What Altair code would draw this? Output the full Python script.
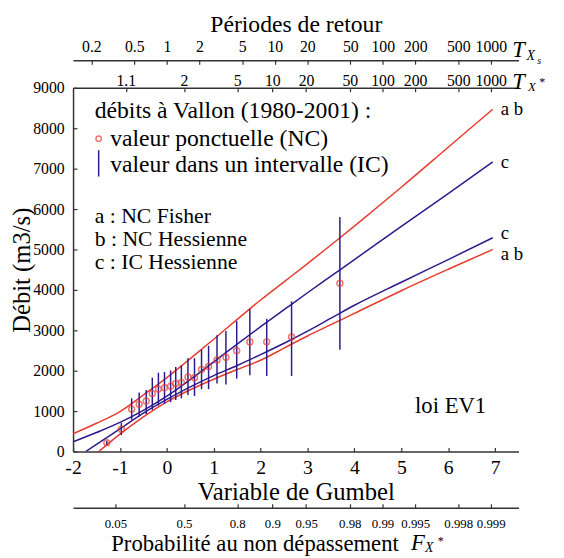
import altair as alt
import numpy as np
import pandas as pd

FONT = "Liberation Serif"
RED = "#e63c2e"
BLUE = "#2c1a8c"
AX = "#333333"

# ---------------- data ----------------
obs_u = [-1.28, -0.97, -0.75, -0.59, -0.44, -0.31, -0.18, -0.05, 0.08, 0.19, 0.31,
         0.45, 0.59, 0.74, 0.89, 1.07, 1.26, 1.49, 1.77, 2.13, 2.66, 3.69]
obs_q = [220, 553, 1049, 1171, 1252, 1439, 1545, 1577, 1618, 1683, 1707,
         1846, 1829, 2032, 2106, 2268, 2334, 2496, 2710, 2715, 2837, 4163]
ic_lo = [170, 407, 788, 871, 927, 1032, 1139, 1178, 1220, 1276, 1317,
         1398, 1373, 1544, 1544, 1683, 1659, 1805, 1885, 1871, 1871, 2520]
ic_hi = [270, 707, 1317, 1463, 1520, 1829, 1951, 1968, 2007, 2090, 2130,
         2310, 2310, 2520, 2617, 2878, 2983, 3227, 3529, 3285, 3715, 5805]

up_u = [-2, -1.5, -1, -0.5, 0, 0.5, 1, 1.5, 2, 2.5, 3, 3.5, 4, 5, 6, 6.95]
ab_upper = [440, 700, 990, 1400, 1830, 2300, 2780, 3270, 3750, 4200, 4650, 5110, 5580, 6540, 7530, 8470]
c_upper = [240, 470, 720, 1020, 1370, 1780, 2220, 2660, 3090, 3510, 3930, 4340, 4750, 5570, 6380, 7170]

c_low_u = [-1.73, -1.5, -1, -0.5, 0, 0.5, 1, 1.5, 2, 2.5, 3, 3.5, 4, 5, 6, 6.95]
c_lower = [0, 180, 560, 950, 1290, 1600, 1880, 2130, 2400, 2680, 2980, 3300, 3620, 4190, 4750, 5290]

ab_low_u = [-1.45, -1, -0.5, 0, 0.5, 1, 1.5, 2, 2.5, 3, 3.5, 4, 5, 6, 6.95]
ab_lower = [0, 430, 860, 1230, 1530, 1790, 2030, 2260, 2560, 2860, 3140, 3420, 3980, 4510, 5000]

gumbel_ticks = [-2, -1, 0, 1, 2, 3, 4, 5, 6, 7]
y_ticks = [0, 1000, 2000, 3000, 4000, 5000, 6000, 7000, 8000, 9000]
T_s_labels = [0.2, 0.5, 1, 2, 5, 10, 20, 50, 100, 200, 500, 1000]
T_star_labels = [1.1, 2, 5, 10, 20, 50, 100, 200, 500, 1000]
F_labels = [0.05, 0.5, 0.8, 0.9, 0.95, 0.98, 0.99, 0.995, 0.998, 0.999]

# positions of the secondary axes on the Gumbel variable
T_s_pos = [float(np.log(t)) for t in T_s_labels]
T_star_pos = [float(-np.log(-np.log(1 - 1 / t))) for t in T_star_labels]
F_pos = [float(-np.log(-np.log(f))) for f in F_labels]

XDOM = [-2, 7.5]
YDOM = [0, 9000]
W, H = 452, 369

curves = pd.concat([
    pd.DataFrame({"u": up_u, "v": ab_upper, "curve": "ab_up"}),
    pd.DataFrame({"u": up_u, "v": c_upper, "curve": "c_up"}),
    pd.DataFrame({"u": c_low_u, "v": c_lower, "curve": "c_low"}),
    pd.DataFrame({"u": ab_low_u, "v": ab_lower, "curve": "ab_low"}),
])
obs = pd.DataFrame({"u": obs_u, "q": obs_q, "lo": ic_lo, "hi": ic_hi})

xscale = alt.Scale(domain=XDOM, nice=False, zero=False)
yscale = alt.Scale(domain=YDOM, nice=False, zero=False)

TICK = {"expr": "-4"}

gumbel_axis = alt.Axis(
    values=gumbel_ticks, title="Variable de Gumbel", labelExpr="replace(datum.label, '−', '-')",
    labelFontSize=20, labelBaseline="middle", labelPadding=20, tickSize=TICK,
    titleFontSize=25, titleY=41, titleBaseline="middle")
y_axis = alt.Axis(
    values=y_ticks, format="d", title="Débit (m3/s)", labelFontSize=16, labelPadding=13,
    tickSize=TICK, titleFontSize=25, titleX=-52, titleY=184.5, titleBaseline="middle",
    titleAlign="center", titleAngle=-90)

X = alt.X("u:Q", scale=xscale, axis=gumbel_axis)

lines = alt.Chart(curves).mark_line(strokeWidth=1.5, clip=True, interpolate="monotone").encode(
    x=X,
    y=alt.Y("v:Q", scale=yscale, axis=y_axis),
    color=alt.Color("curve:N", scale=alt.Scale(domain=["ab_up", "c_up", "c_low", "ab_low"],
                                              range=[RED, BLUE, BLUE, RED]), legend=None),
)
bars = alt.Chart(obs).mark_rule(color=BLUE, strokeWidth=1.5).encode(
    x=X, y=alt.Y("lo:Q", scale=yscale), y2="hi:Q")
pts = alt.Chart(obs).mark_point(shape="circle", filled=False, color=RED, size=36, strokeWidth=1.5).encode(
    x=X, y=alt.Y("q:Q", scale=yscale))

ends = pd.DataFrame({
    "u": [up_u[-1], up_u[-1], c_low_u[-1], ab_low_u[-1]],
    "v": [ab_upper[-1], c_upper[-1], c_lower[-1], ab_lower[-1]],
    "lab": ["a b", "c", "c", "a b"],
    "k": [0, 0, 1, 2],
})
end_layers = []
for k, dy in [(0, 0), (1, -5), (2, 5)]:
    end_layers.append(
        alt.Chart(ends).transform_filter(alt.datum.k == k).mark_text(
            font=FONT, fontSize=19, align="left", baseline="middle", dx=8, dy=dy, color="black"
        ).encode(x=X, y=alt.Y("v:Q", scale=yscale), text="lab:N"))


def txt(s, px, py, size=24, style="normal", align="left", baseline="alphabetic"):
    return alt.Chart(pd.DataFrame({"t": [s]})).mark_text(
        text=s, font=FONT, fontSize=size, fontStyle=style, align=align, baseline=baseline,
        color="black").encode(x=alt.value(px), y=alt.value(py))


dummy = pd.DataFrame({"t": [0]})
leg_circle = alt.Chart(dummy).mark_point(shape="circle", filled=False, color=RED, size=30,
                                         strokeWidth=1.5).encode(x=alt.value(26), y=alt.value(51.7))
leg_bar = alt.Chart(dummy).mark_rule(color=BLUE, strokeWidth=1.5).encode(
    x=alt.value(26), y=alt.value(63.3), y2=alt.value(90))

annotations = [
    txt("débits à Vallon (1980-2001) :", 22, 31),
    txt("valeur ponctuelle (NC)", 37.7, 59),
    txt("valeur dans un intervalle (IC)", 37.7, 85),
    txt("a : NC Fisher", 22, 136.7, size=22),
    txt("b : NC Hessienne", 22, 160, size=22),
    txt("c : IC Hessienne", 22, 183.5, size=22),
    txt("loi EV1", 347, 323, size=23, baseline="middle"),
    # T_Xs
    txt("T", 452, -38, size=23, style="italic", align="center", baseline="middle"),
    txt("X", 460, -32, size=14, style="italic", baseline="middle"),
    txt("s", 471, -27, size=10, style="italic", baseline="middle"),
    # T_X*
    txt("T", 452, -6, size=23, style="italic", align="center", baseline="middle"),
    txt("X", 461.7, -1, size=13, style="italic", baseline="middle"),
    txt("*", 473, -6, size=12, baseline="middle"),
    # F_X*
    txt("F", 343, 462, size=23, style="italic", baseline="middle"),
    txt("X", 357, 467, size=14, style="italic", baseline="middle"),
    txt("*", 370, 460, size=12, baseline="middle"),
]

data_layer = alt.layer(lines, bars, pts, *end_layers, leg_circle, leg_bar, *annotations)


def axis_layer(positions, axis):
    return alt.Chart(pd.DataFrame({"u": positions})).mark_point(opacity=0).encode(
        x=alt.X("u:Q", scale=alt.Scale(domain=XDOM, nice=False, zero=False), axis=axis))


ax_Ts = axis_layer(T_s_pos, alt.Axis(
    orient="top", offset=28, values=T_s_pos, title="Périodes de retour",
    labelExpr="format(exp(datum.value), '.4~g')", labelFontSize=16, labelBaseline="middle",
    labelPadding=18, tickSize=TICK, titleFontSize=24, titleY=-36, titleBaseline="middle"))
ax_Tstar = axis_layer(T_star_pos, alt.Axis(
    orient="top", offset=0, values=T_star_pos, title=None,
    labelExpr="format(1/(1-exp(-exp(-datum.value))), '.4~g')", labelFontSize=16,
    labelBaseline="middle", labelPadding=11, tickSize=TICK))
ax_F = axis_layer(F_pos, alt.Axis(
    orient="bottom", offset=57, values=F_pos, title="Probabilité au non dépassement",
    labelExpr="format(exp(-exp(-datum.value)), '.4~g')", labelFontSize=13,
    labelBaseline="middle", labelPadding=20, tickSize=TICK, titleFontSize=23,
    titleX=330, titleAlign="right", titleY=36, titleBaseline="middle"))

chart = alt.layer(data_layer, ax_Ts, ax_Tstar, ax_F).resolve_scale(x="independent").properties(
    width=W, height=H,
    autosize=alt.AutoSizeParams(type="none"),
    padding={"left": 66, "top": 77, "right": 38, "bottom": 104},
).configure_view(stroke=None).configure_axis(
    grid=False, labelFont=FONT, titleFont=FONT, labelColor="black", titleColor="black",
    titleFontWeight="normal", domainColor=AX, domainWidth=1.5, tickColor=AX, tickWidth=1.2,
    labelFlush=False, labelOverlap=False, labelBound=False,
)

chart.save("out.html", embed_options={"renderer": "svg", "actions": False})
